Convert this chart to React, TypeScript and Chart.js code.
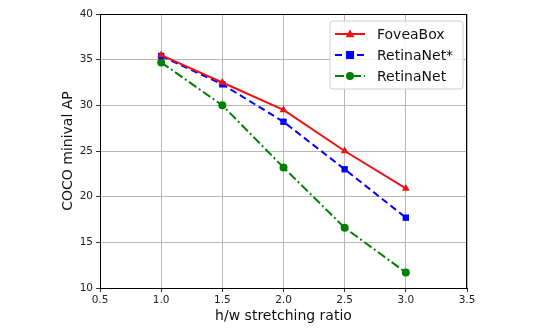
import React, { useEffect, useRef } from "react";
import { Chart, registerables } from "chart.js";

Chart.register(...registerables);

const ratios = [1.0, 1.5, 2.0, 2.5, 3.0];
const foveaBox = [35.5, 32.5, 29.5, 25.0, 20.9];
const retinaNetStar = [35.4, 32.3, 28.2, 23.0, 17.7];
const retinaNet = [34.7, 30.0, 23.2, 16.6, 11.7];

const xTicks = [0.5, 1.0, 1.5, 2.0, 2.5, 3.0, 3.5];
const yTicks = [10, 15, 20, 25, 30, 35, 40];

const xTitle = "h/w stretching ratio";
const yTitle = "COCO minival AP";

const FONT = "'DejaVu Sans', sans-serif";

const seriesDefs = [
  { label: "FoveaBox", data: foveaBox, color: "#ee1111", dash: [] as number[], marker: "triangle", radius: 4.5 },
  { label: "RetinaNet*", data: retinaNetStar, color: "#0000ff", dash: [7, 4], marker: "rect", radius: 4.5 },
  { label: "RetinaNet", data: retinaNet, color: "#008000", dash: [9, 3, 2, 3], marker: "circle", radius: 4 },
];

function drawMarker(ctx: CanvasRenderingContext2D, kind: string, x: number, y: number, r: number, color: string) {
  ctx.save();
  ctx.fillStyle = color;
  ctx.beginPath();
  if (kind === "circle") {
    ctx.arc(x, y, r, 0, Math.PI * 2);
  } else if (kind === "rect") {
    ctx.rect(x - r * 0.9, y - r * 0.9, r * 1.8, r * 1.8);
  } else {
    ctx.moveTo(x, y - r);
    ctx.lineTo(x + r, y + r * 0.7);
    ctx.lineTo(x - r, y + r * 0.7);
    ctx.closePath();
  }
  ctx.fill();
  ctx.restore();
}

const overlayPlugin = {
  id: "overlay",
  afterDraw(chart: any) {
    const { ctx, chartArea } = chart;
    const { left, right, top, bottom } = chartArea;
    ctx.save();
    // frame
    ctx.strokeStyle = "#000";
    ctx.lineWidth = 1;
    ctx.strokeRect(Math.round(left) + 0.5, Math.round(top) + 0.5, Math.round(right - left) - 1, Math.round(bottom - top));

    // axis titles
    ctx.fillStyle = "#111";
    ctx.font = `14px ${FONT}`;
    ctx.textAlign = "center";
    ctx.textBaseline = "middle";
    ctx.fillText(xTitle, (left + right) / 2, 316);
    ctx.save();
    ctx.translate(68, (top + bottom) / 2);
    ctx.rotate(-Math.PI / 2);
    ctx.fillText(yTitle, 0, 0);
    ctx.restore();

    // legend
    const bx = right - 137;
    const by = top + 7;
    const bw = 133;
    const bh = 68;
    ctx.beginPath();
    const r = 3;
    ctx.moveTo(bx + r, by);
    ctx.lineTo(bx + bw - r, by);
    ctx.quadraticCurveTo(bx + bw, by, bx + bw, by + r);
    ctx.lineTo(bx + bw, by + bh - r);
    ctx.quadraticCurveTo(bx + bw, by + bh, bx + bw - r, by + bh);
    ctx.lineTo(bx + r, by + bh);
    ctx.quadraticCurveTo(bx, by + bh, bx, by + bh - r);
    ctx.lineTo(bx, by + r);
    ctx.quadraticCurveTo(bx, by, bx + r, by);
    ctx.closePath();
    ctx.fillStyle = "rgba(255,255,255,0.85)";
    ctx.fill();
    ctx.strokeStyle = "#d0d0d0";
    ctx.lineWidth = 1;
    ctx.stroke();

    seriesDefs.forEach((s, i) => {
      const yy = by + 13 + i * 21;
      const x0 = bx + 5;
      const x1 = bx + 35;
      ctx.save();
      ctx.strokeStyle = s.color;
      ctx.lineWidth = 2;
      ctx.setLineDash(s.dash);
      ctx.beginPath();
      ctx.moveTo(x0, yy);
      ctx.lineTo(x1, yy);
      ctx.stroke();
      ctx.restore();
      drawMarker(ctx, s.marker, (x0 + x1) / 2, yy, s.radius, s.color);
      ctx.fillStyle = "#111";
      ctx.font = `14px ${FONT}`;
      ctx.textAlign = "left";
      ctx.textBaseline = "middle";
      ctx.fillText(s.label, bx + 47, yy + 1);
    });
    ctx.restore();
  },
};

export default function App() {
  const canvasRef = useRef<HTMLCanvasElement | null>(null);

  useEffect(() => {
    if (!canvasRef.current) return;
    const chart = new Chart(canvasRef.current, {
      type: "line",
      data: {
        datasets: seriesDefs.map((s) => ({
          label: s.label,
          data: ratios.map((x, i) => ({ x, y: s.data[i] })),
          borderColor: s.color,
          backgroundColor: s.color,
          borderWidth: 2,
          borderDash: s.dash,
          pointStyle: s.marker as any,
          pointRadius: s.radius,
          pointBorderWidth: 0,
          pointBackgroundColor: s.color,
          tension: 0,
          fill: false,
        })),
      },
      options: {
        animation: false,
        responsive: false,
        maintainAspectRatio: false,
        layout: { padding: { top: 14, right: 82, left: 0, bottom: 0 } },
        plugins: {
          legend: { display: false },
          tooltip: { enabled: false },
        },
        scales: {
          x: {
            type: "linear",
            min: 0.5,
            max: 3.5,
            afterBuildTicks: (scale: any) => {
              scale.ticks = xTicks.map((v) => ({ value: v }));
            },
            afterFit: (scale: any) => {
              scale.height = 43;
            },
            ticks: {
              font: { family: FONT, size: 10.5 },
              color: "#222",
              padding: 2,
              maxRotation: 0,
              callback: (v: any) => Number(v).toFixed(1),
            },
            grid: { color: "#b8b8b8", lineWidth: 1, tickLength: 4, tickColor: "#333" },
            border: { display: true, color: "#000" },
          },
          y: {
            type: "linear",
            min: 10,
            max: 40,
            afterBuildTicks: (scale: any) => {
              scale.ticks = yTicks.map((v) => ({ value: v }));
            },
            afterFit: (scale: any) => {
              scale.width = 100;
            },
            ticks: {
              font: { family: FONT, size: 10.5 },
              color: "#222",
              padding: 3,
              callback: (v: any) => String(v),
            },
            grid: { color: "#b8b8b8", lineWidth: 1, tickLength: 4, tickColor: "#333" },
            border: { display: true, color: "#000" },
          },
        },
      },
      plugins: [overlayPlugin],
    });
    return () => chart.destroy();
  }, []);

  return (
    <div style={{ position: "fixed", left: 0, top: 0, width: 549, height: 331, background: "#fff" }}>
      <canvas ref={canvasRef} width={549} height={331} style={{ width: 549, height: 331 }} />
    </div>
  );
}
